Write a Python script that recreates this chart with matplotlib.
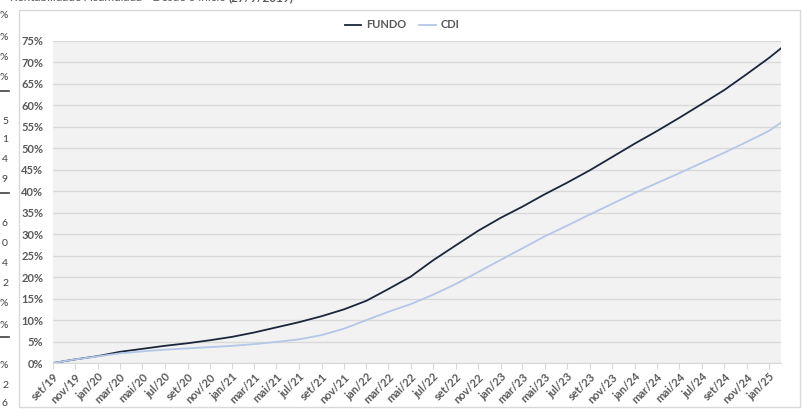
import pandas as pd
import matplotlib.pyplot as plt
from matplotlib.patches import Rectangle

plt.rcParams['font.family'] = ['Lato', 'DejaVu Sans']

# valores (rentabilidade acumulada, %), a cada 2 meses desde 27/9/2019
datas = list(pd.date_range("2019-09-01", periods=33, freq="2MS") + pd.Timedelta(days=26)) + [pd.Timestamp("2025-02-28")]
fundo = [0.0, 0.85, 1.6, 2.6, 3.3, 4.0, 4.6, 5.3, 6.1, 7.1, 8.3, 9.5, 10.9, 12.5,
         14.5, 17.2, 20.1, 23.9, 27.4, 30.8, 33.8, 36.4, 39.3, 42.0, 44.9, 48.0,
         51.1, 54.0, 57.1, 60.3, 63.6, 67.3, 71.1, 73.3]
cdi = [0.0, 0.85, 1.55, 2.25, 2.7, 3.1, 3.4, 3.7, 4.0, 4.4, 4.9, 5.5, 6.5, 8.0,
       10.0, 11.9, 13.7, 15.9, 18.4, 21.2, 24.0, 26.7, 29.5, 32.0, 34.6, 37.1,
       39.6, 41.9, 44.2, 46.6, 49.0, 51.5, 54.1, 56.0]
meses = ['jan', 'fev', 'mar', 'abr', 'mai', 'jun', 'jul', 'ago', 'set', 'out', 'nov', 'dez']
ticks = datas[:33]
tick_labels = [f"{meses[d.month - 1]}/{d.strftime('%y')}" for d in ticks]

cinza = '#595959'
fig = plt.figure(figsize=(8.07, 4.16), dpi=100)
fig.patches.append(Rectangle((19 / 807, 1 - 407 / 416), 781 / 807, 397 / 416,
                             transform=fig.transFigure, fill=False, edgecolor='#D9D9D9', lw=1))

ax = fig.add_axes([53 / 807, 1 - 363 / 416, 728 / 807, 322 / 416])
ax.set_facecolor('#F2F2F2')
ax.plot(datas, fundo, color='#1B263B', lw=1.3, label='FUNDO')
ax.plot(datas, cdi, color='#B4C7E7', lw=1.3, label='CDI')

ax.set_ylim(0, 75)
ax.set_yticks(range(0, 76, 5))
ax.set_yticklabels([f"{v}%" for v in range(0, 76, 5)], fontsize=8, fontweight='bold', color=cinza)
ax.set_xlim(datas[0], datas[-1])
ax.set_xticks(ticks)
ax.set_xticklabels(tick_labels, rotation=45, ha='right', rotation_mode='anchor',
                   fontsize=8, fontweight='bold', color=cinza)
ax.tick_params(axis='y', length=0, pad=7)
ax.tick_params(axis='x', length=4, color='#D9D9D9', pad=2)
ax.grid(axis='y', color='#D9D9D9', lw=1)
ax.set_axisbelow(True)
for s in ['top', 'right', 'left']:
    ax.spines[s].set_visible(False)
ax.spines['bottom'].set_color('#D9D9D9')

leg = fig.legend(loc='center', bbox_to_anchor=(402 / 807, 1 - 25 / 416), ncol=2, frameon=False,
                 prop={'size': 8, 'weight': 'bold'}, handlelength=1.5, columnspacing=1.2, handletextpad=0.4)
for t in leg.get_texts():
    t.set_color(cinza)

# titulo cortado no topo da captura
t1 = fig.text(10 / 807, 1 + 2.5 / 416, 'Rentabilidade Acumulada - Desde o início ', fontsize=8.5, color=cinza, va='center')
t2 = fig.text(0, 1 + 2.5 / 416, '(27/9/2019)', fontsize=8.5, color=cinza, fontweight='bold', va='center')
fig.canvas.draw()
bb = t1.get_window_extent().transformed(fig.transFigure.inverted())
t2.set_x(bb.x1)

# fragmentos da tabela ao lado
frag = [('%', 16), ('%', 38), ('%', 57), ('%', 78), ('5', 121), ('1', 140), ('4', 160), ('9', 180),
        ('6', 223), ('0', 243), ('4', 263), ('2', 283), ('%', 303), ('%', 325), ('%', 365), ('2', 386), ('6', 404)]
for txt, y in frag:
    fig.text(8 / 807, 1 - y / 416, txt, fontsize=7.5, color='#404040', ha='right', va='center')
for y in [91, 193, 337]:
    fig.add_artist(plt.Line2D([0, 9 / 807], [1 - y / 416] * 2, color='#404040', lw=1.2))

fig.savefig('out.png', dpi=100)
